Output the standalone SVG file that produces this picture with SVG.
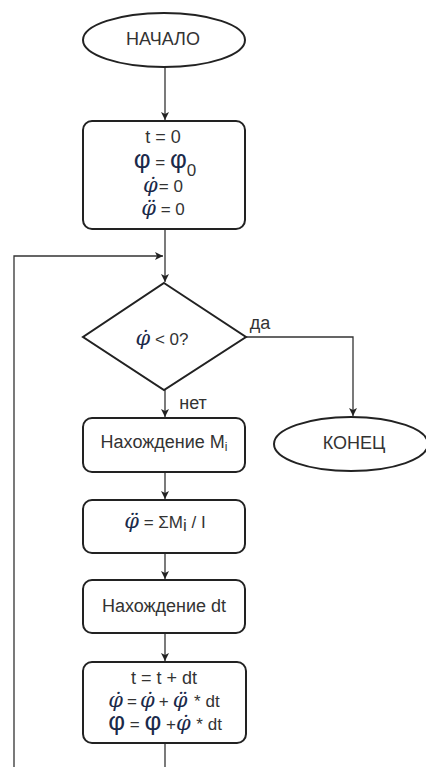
<svg xmlns="http://www.w3.org/2000/svg" width="426" height="767" viewBox="0 0 426 767">
<style>
.shape{fill:#fff;stroke:#222;stroke-width:2}
.con{fill:none;stroke:#333;stroke-width:1.3}
.t{font-family:"Liberation Sans",Arial,sans-serif;font-size:18px;fill:#333;text-anchor:middle}
.s{font-family:"Liberation Sans",Arial,sans-serif;font-size:17px;fill:#333}
.ph{font-family:"DejaVu Serif",serif;font-style:italic;font-size:21px;fill:#1b2a4a}
.pu{font-family:"Liberation Sans",Arial,sans-serif;font-size:26px;fill:#1b2a4a}
</style>
<defs>
<marker id="ah" markerWidth="10" markerHeight="10" refX="9" refY="5" orient="auto" markerUnits="userSpaceOnUse">
<path d="M1,1 L9,5 L1,9 L3,5 Z" fill="#222"/>
</marker>
</defs>
<rect width="426" height="767" fill="#fff"/>
<g id="connectors">
<line class="con" x1="165" y1="67" x2="165" y2="120" marker-end="url(#ah)"/>
<line class="con" x1="165" y1="229" x2="165" y2="282" marker-end="url(#ah)"/>
<polyline class="con" points="14,767 14,256 163,256" marker-end="url(#ah)"/>
<line class="con" x1="165" y1="390" x2="165" y2="417" marker-end="url(#ah)"/>
<polyline class="con" points="246,337 353,337 353,416" marker-end="url(#ah)"/>
<line class="con" x1="165" y1="472" x2="165" y2="499" marker-end="url(#ah)"/>
<line class="con" x1="165" y1="553" x2="165" y2="579" marker-end="url(#ah)"/>
<line class="con" x1="165" y1="633" x2="165" y2="661" marker-end="url(#ah)"/>
<line class="con" x1="165" y1="743" x2="165" y2="767"/>
<text class="t" x="260" y="329" font-size="17px">да</text>
<text class="t" x="193" y="409" font-size="17px">нет</text>
</g>
<g id="start">
<ellipse class="shape" cx="164" cy="40" rx="81" ry="27"/>
<text class="t" x="163" y="45" font-size="16px">НАЧАЛО</text>
</g>
<g id="init">
<rect class="shape" x="83" y="121" width="162" height="108" rx="9"/>
<text class="t" x="163" y="143">t = 0</text>
<text x="165" y="168" text-anchor="middle"><tspan class="pu">φ</tspan><tspan class="s"> = </tspan><tspan class="pu">φ</tspan><tspan class="s" dy="8">0</tspan></text>
<text x="163" y="192" text-anchor="middle"><tspan class="ph">φ̇</tspan><tspan class="s" dx="1">= 0</tspan></text>
<text x="163" y="215" text-anchor="middle"><tspan class="ph">φ̈</tspan><tspan class="s"> = 0</tspan></text>
</g>
<g id="check">
<polygon class="shape" points="164,283 246,337 164,390 83,337"/>
<text x="162" y="345" text-anchor="middle"><tspan class="ph" font-size="24px">φ̇</tspan><tspan class="s" font-size="17px"> &lt; 0?</tspan></text>
</g>
<g id="end">
<ellipse class="shape" cx="351" cy="444" rx="77" ry="27"/>
<text class="t" x="354" y="449" font-size="16px">КОНЕЦ</text>
</g>
<g id="findM">
<rect class="shape" x="83" y="418" width="162" height="54" rx="9"/>
<text class="t" x="164" y="448">Нахождение M<tspan font-size="12px" dy="3">i</tspan></text>
</g>
<g id="accel">
<rect class="shape" x="83" y="500" width="162" height="53" rx="9"/>
<text x="165" y="528" text-anchor="middle"><tspan class="ph" font-size="23px">φ̈</tspan><tspan class="s" font-size="15px"> = ΣM</tspan><tspan class="s" font-size="12px" dy="3">i</tspan><tspan class="s" font-size="15px" dy="-3"> / I</tspan></text>
</g>
<g id="findDt">
<rect class="shape" x="83" y="580" width="162" height="53" rx="9"/>
<text class="t" x="164" y="612">Нахождение dt</text>
</g>
<g id="update">
<rect class="shape" x="83" y="662" width="163" height="81" rx="9"/>
<text class="t" x="164" y="684">t = t + dt</text>
<text x="164" y="707" text-anchor="middle"><tspan class="ph">φ̇</tspan><tspan class="s" dx="4">=</tspan><tspan class="ph" dx="3">φ̇</tspan><tspan class="s" dx="4">+</tspan><tspan class="ph" dx="4">φ̈</tspan><tspan class="s" dx="2">  * dt</tspan></text>
<text x="165" y="730" text-anchor="middle"><tspan class="pu" font-size="20px">φ</tspan><tspan class="s"> = </tspan><tspan class="pu" font-size="20px">φ</tspan><tspan class="s"> +</tspan><tspan class="ph">φ̇</tspan><tspan class="s" dx="1"> * dt</tspan></text>
</g>
</svg>
